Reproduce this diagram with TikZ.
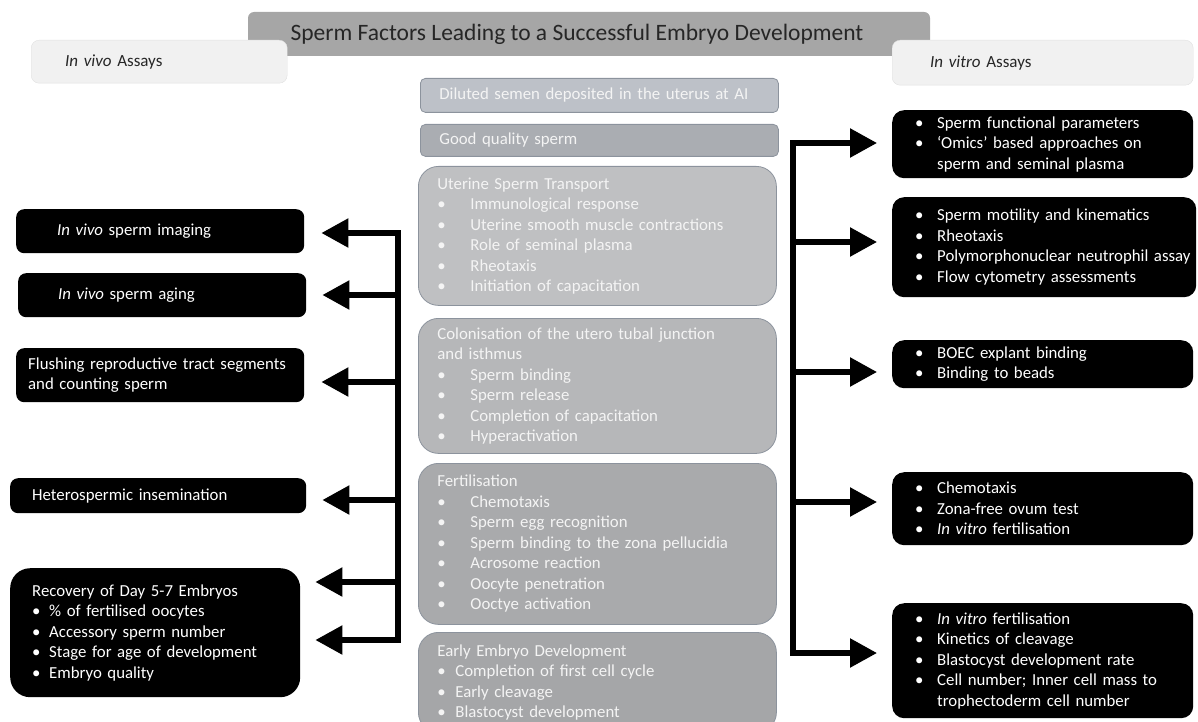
\documentclass[tikz,border=0pt]{standalone}
\usepackage{fontspec}
\setmainfont{Carlito}
\usepackage{tikz}
\usetikzlibrary{arrows.meta}

\definecolor{headgray}{HTML}{A6A6A6}
\definecolor{headtext}{HTML}{262626}
\definecolor{assaygray}{HTML}{F1F1F1}
\definecolor{assayedge}{HTML}{E0E0E0}
\definecolor{stepedge}{HTML}{8C939D}
\definecolor{stepA}{HTML}{BDC1C8}
\definecolor{stepB}{HTML}{AAADB2}
\definecolor{stepC}{HTML}{BFC0C2}
\definecolor{stepD}{HTML}{B6B7B9}
\definecolor{stepE}{HTML}{A9AAAC}
\definecolor{stepF}{HTML}{A5A6A8}
\definecolor{steptext}{HTML}{F4F4F4}

\newcommand{\dotitem}[1]{\makebox[#1][l]{\textbullet}}

\tikzset{
  bodyfont/.style={font=\fontsize{16.8}{20.5}\selectfont},
  assaylabel/.style={anchor=north west, fill=assaygray, draw=assayedge, rounded corners=8pt,
    align=left, inner ysep=0pt, font=\fontsize{17}{20}\selectfont, text=headtext},
  stepbox/.style={bodyfont, anchor=north west, draw=stepedge, line width=0.8pt, text=steptext,
    align=left, inner xsep=19pt, inner ysep=0pt, text width=320pt},
  testbox/.style={bodyfont, anchor=north west, fill=black, text=white,
    align=left, inner ysep=0pt},
  trunk/.style={line width=5.5pt, line cap=rect},
  arr/.style={line width=5.5pt, -{Triangle[length=27pt,width=28pt]}}
}

\begin{document}
\begin{tikzpicture}[x=1pt, y=-1pt]
\useasboundingbox (0,0) rectangle (1198,722);

% Title bar
\node[fill=headgray, rounded corners=6pt, minimum width=682pt, minimum height=44pt,
  font=\fontsize{23.5}{27}\selectfont, text=headtext] (title) at (589,34)
  {Sperm Factors Leading to a Successful Embryo Development\hspace*{24pt}};

% Assay headers
\node[assaylabel, minimum height=43pt, inner xsep=34pt, text width=188pt] (invivo) at (31,40)
  {\emph{In vivo} Assays};
\node[assaylabel, minimum height=45pt, inner xsep=38pt, text width=225pt] (invitro) at (892,40)
  {\emph{In vitro} Assays};

% Central steps
\node[stepbox, fill=stepA, rounded corners=5pt, minimum height=34pt] (semen) at (420,78)
  {Diluted semen deposited in the uterus at AI};
\node[stepbox, fill=stepB, rounded corners=5pt, minimum height=32pt] (quality) at (420,124)
  {Good quality sperm};
\node[stepbox, fill=stepC, rounded corners=20pt, minimum height=139pt] (transport) at (418,166)
  {Uterine Sperm Transport\\
   \dotitem{33pt}Immunological response\\
   \dotitem{33pt}Uterine smooth muscle contractions\\
   \dotitem{33pt}Role of seminal plasma\\
   \dotitem{33pt}Rheotaxis\\
   \dotitem{33pt}Initiation of capacitation};
\node[stepbox, fill=stepD, rounded corners=20pt, minimum height=135pt] (colonisation) at (418,318)
  {Colonisation of the utero tubal junction\\
   and isthmus\\
   \dotitem{33pt}Sperm binding\\
   \dotitem{33pt}Sperm release\\
   \dotitem{33pt}Completion of capacitation\\
   \dotitem{33pt}Hyperactivation};
\node[stepbox, fill=stepE, rounded corners=20pt, minimum height=161pt] (fertilisation) at (418,463)
  {Fertilisation\\
   \dotitem{33pt}Chemotaxis\\
   \dotitem{33pt}Sperm egg recognition\\
   \dotitem{33pt}Sperm binding to the zona pellucidia\\
   \dotitem{33pt}Acrosome reaction\\
   \dotitem{33pt}Oocyte penetration\\
   \dotitem{33pt}Ooctye activation};
\node[stepbox, fill=stepF, rounded corners=20pt, minimum height=100pt] (embryo) at (418,632)
  {Early Embryo Development\\
   \dotitem{18pt}Completion of first cell cycle\\
   \dotitem{18pt}Early cleavage\\
   \dotitem{18pt}Blastocyst development};

% In vivo tests
\node[testbox, rounded corners=8pt, minimum height=44pt, inner xsep=10pt, text width=268pt] (imaging) at (16,209)
  {\hspace*{31pt}\emph{In vivo} sperm imaging};
\node[testbox, rounded corners=8pt, minimum height=44pt, inner xsep=10pt, text width=268pt] (aging) at (18,273)
  {\hspace*{30pt}\emph{In vivo} sperm aging};
\node[testbox, rounded corners=8pt, minimum height=54pt, inner xsep=4pt, text width=280pt] (flushing) at (16,348)
  {\hspace*{8pt}Flushing reproductive tract segments\\
   \hspace*{8pt}and counting sperm};
\node[testbox, rounded corners=8pt, minimum height=35pt, inner xsep=10pt, text width=276pt] (hetero) at (10,478)
  {\hspace*{12pt}Heterospermic insemination};
\node[testbox, rounded corners=20pt, minimum height=129pt, inner xsep=10pt, text width=270pt] (recovery) at (10,568)
  {\hspace*{12pt}Recovery of Day 5-7 Embryos\\
   \hspace*{12pt}\dotitem{17pt}\% of fertilised oocytes\\
   \hspace*{12pt}\dotitem{17pt}Accessory sperm number\\
   \hspace*{12pt}\dotitem{17pt}Stage for age of development\\
   \hspace*{12pt}\dotitem{17pt}Embryo quality};

% In vitro tests
\node[testbox, rounded corners=12pt, minimum height=68pt, inner xsep=4pt, text width=293pt] (functional) at (892,110)
  {\hspace*{19pt}\dotitem{22pt}Sperm functional parameters\\
   \hspace*{19pt}\dotitem{22pt}`Omics' based approaches on\\
   \hspace*{41pt}sperm and seminal plasma};
\node[testbox, rounded corners=12pt, minimum height=100pt, inner xsep=4pt, text width=296pt] (motility) at (892,197)
  {\hspace*{19pt}\dotitem{22pt}Sperm motility and kinematics\\
   \hspace*{19pt}\dotitem{22pt}Rheotaxis\\
   \hspace*{19pt}\dotitem{22pt}Polymorphonuclear neutrophil assay\\
   \hspace*{19pt}\dotitem{22pt}Flow cytometry assessments};
\node[testbox, rounded corners=12pt, minimum height=48pt, inner xsep=4pt, text width=293pt] (boec) at (892,340)
  {\hspace*{19pt}\dotitem{22pt}BOEC explant binding\\
   \hspace*{19pt}\dotitem{22pt}Binding to beads};
\node[testbox, rounded corners=12pt, minimum height=73pt, inner xsep=4pt, text width=293pt] (chemo) at (892,472)
  {\hspace*{19pt}\dotitem{22pt}Chemotaxis\\
   \hspace*{19pt}\dotitem{22pt}Zona-free ovum test\\
   \hspace*{19pt}\dotitem{22pt}\emph{In vitro} fertilisation};
\node[testbox, rounded corners=12pt, minimum height=115pt, inner xsep=4pt, text width=293pt] (ivf) at (892,603)
  {\hspace*{19pt}\dotitem{22pt}\emph{In vitro} fertilisation\\
   \hspace*{19pt}\dotitem{22pt}Kinetics of cleavage\\
   \hspace*{19pt}\dotitem{22pt}Blastocyst development rate\\
   \hspace*{19pt}\dotitem{22pt}Cell number; Inner cell mass to\\
   \hspace*{41pt}trophectoderm cell number};

% Left branch
\coordinate (lj1) at (398,233);
\coordinate (lj2) at (398,295);
\coordinate (lj3) at (398,382);
\coordinate (lj4) at (398,500);
\coordinate (lj5) at (398,582);
\coordinate (lj6) at (398,640);
\draw[trunk] (lj1) -- (lj6);
\draw[arr, shorten >=17pt] (lj1) -- (lj1 -| imaging.east);
\draw[arr, shorten >=16pt] (lj2) -- (lj2 -| aging.east);
\draw[arr, shorten >=17pt] (lj3) -- (lj3 -| flushing.east);
\draw[arr, shorten >=16pt] (lj4) -- (lj4 -| hetero.east);
\draw[arr, shorten >=15pt] (lj5) -- (lj5 -| recovery.east);
\draw[arr, shorten >=15pt] (lj6) -- (lj6 -| recovery.east);

% Right branch
\coordinate (rj1) at (793,143);
\coordinate (rj2) at (793,242);
\coordinate (rj3) at (793,372);
\coordinate (rj4) at (793,502);
\coordinate (rj5) at (793,653);
\draw[trunk] (rj1) -- (rj5);
\draw[arr, shorten >=15pt] (rj1) -- (rj1 -| functional.west);
\draw[arr, shorten >=15pt] (rj2) -- (rj2 -| motility.west);
\draw[arr, shorten >=15pt] (rj3) -- (rj3 -| boec.west);
\draw[arr, shorten >=15pt] (rj4) -- (rj4 -| chemo.west);
\draw[arr, shorten >=15pt] (rj5) -- (rj5 -| ivf.west);

\end{tikzpicture}
\end{document}
